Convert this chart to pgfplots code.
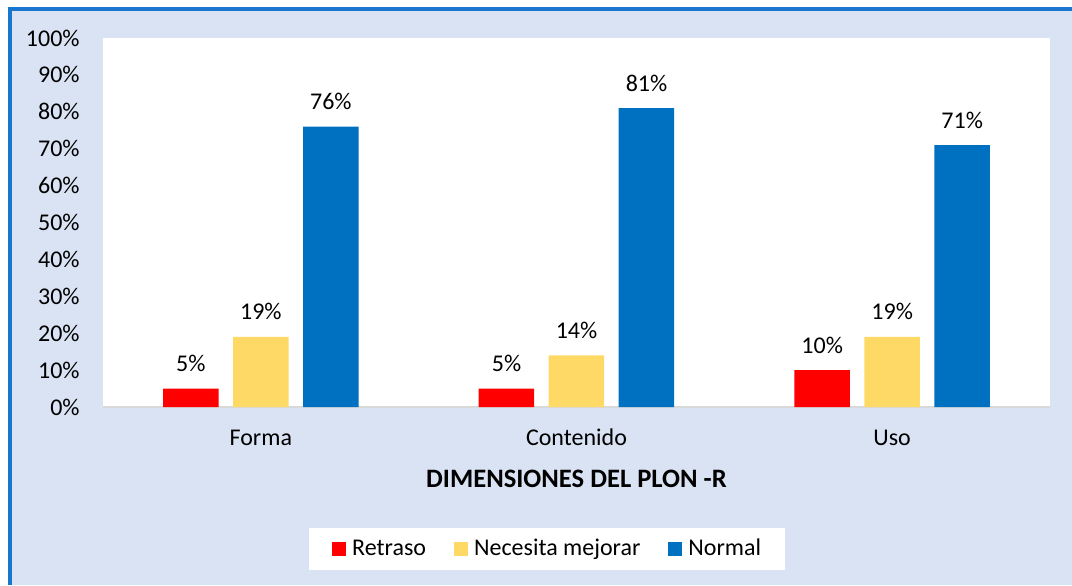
\documentclass[border=0pt]{standalone}
\usepackage{fontspec}
\setmainfont{Carlito}
\usepackage{pgfplots}
\pgfplotsset{compat=1.18}
\definecolor{bgblue}{RGB}{218,227,243}
\definecolor{framecol}{RGB}{25,118,206}
\definecolor{cRetraso}{RGB}{255,0,0}
\definecolor{cNecesita}{RGB}{255,217,102}
\definecolor{cNormal}{RGB}{0,112,192}
\definecolor{axisgrey}{RGB}{217,217,217}

\begin{document}
\begin{tikzpicture}[font=\fontsize{12}{14}\selectfont]
\path[use as bounding box] (0,0) rectangle (536pt,292.5pt);
\fill[white] (0,0) rectangle (536pt,292.5pt);
\fill[bgblue] (4.75pt,0) rectangle (536pt,287.75pt);
\draw[framecol, line width=2pt] (4.75pt,0) -- (4.75pt,287.75pt) -- (536pt,287.75pt);

\begin{axis}[
    at={(51.5pt,89pt)}, anchor=south west,
    scale only axis,
    width=473.5pt, height=184.5pt,
    axis background/.style={fill=white},
    ybar=7.25pt,
    bar width=27.75pt,
    xmin=-0.5, xmax=2.5,
    ymin=0, ymax=100,
    enlargelimits=false,
    xtick={0,1,2},
    xticklabels={Forma,Contenido,Uso},
    ytick={0,10,...,100},
    yticklabel={\pgfmathprintnumber{\tick}\%},
    /pgf/number format/assume math mode=true,
    major tick length=0pt,
    axis x line*=bottom,
    axis y line*=left,
    x axis line style={draw=axisgrey, line width=1pt},
    y axis line style={draw=none},
    yticklabel style={anchor=east, inner sep=0pt, xshift=-11.5pt},
    xticklabel style={anchor=base, inner sep=0pt, yshift=-19.3pt},
    xlabel={\textbf{DIMENSIONES DEL PLON -R}},
    xlabel style={at={(axis description cs:0.5,0)}, anchor=center, yshift=-35.8pt, font=\fontsize{13.3}{16}\selectfont},
    nodes near coords={\pgfmathprintnumber{\pgfplotspointmeta}\%},
    every node near coord/.append style={anchor=base, yshift=8.5pt, black},
    legend columns=3,
    legend image code/.code={\fill[#1,draw=none] (0pt,-3.5pt) rectangle (7pt,3.5pt);},
    legend style={
        at={(axis description cs:0.4685,-0.3848)}, anchor=center,
        draw=none, fill=white,
        inner xsep=11.75pt, inner ysep=5.5pt,
        nodes={inner xsep=0pt, inner ysep=0pt},
        /tikz/every odd column/.append style={column sep=3pt},
        /tikz/every even column/.append style={column sep=14pt},
    },
]
\addplot[fill=cRetraso, draw=none] coordinates {(0,5) (1,5) (2,10)};
\addlegendentry{Retraso}
\addplot[fill=cNecesita, draw=none] coordinates {(0,19) (1,14) (2,19)};
\addlegendentry{Necesita mejorar}
\addplot[fill=cNormal, draw=none] coordinates {(0,76) (1,81) (2,71)};
\addlegendentry{Normal}
\end{axis}
\end{tikzpicture}
\end{document}
